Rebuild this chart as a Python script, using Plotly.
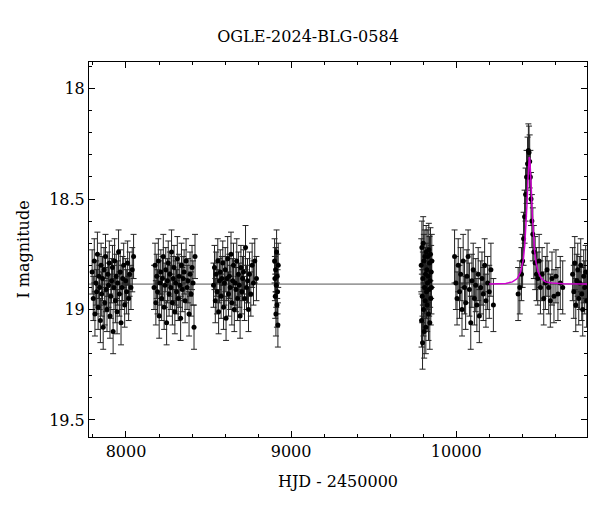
import plotly.graph_objects as go

# observations: (HJD-2450000, I mag)
s1_t = [7795,7802,7808,7812,7818,7822,7827,7831,7836,7840,7845,7849,7853,7858,7862,7867,7871,7876,7880,7885,7890,7894,7899,7903,7908,7913,7918,7922,7927,7931,7936,7941,7946,7950,7955,7960,7965,7970,7975,7980,7986,7992,7998,8004,8010,8016,8022,8030,8038,8046]
s1_m = [18.83,18.95,18.78,19.02,18.88,18.92,18.75,18.99,18.85,18.90,19.05,18.80,18.93,18.86,19.08,18.82,18.97,18.76,18.91,19.00,18.84,18.89,18.79,19.03,18.94,18.87,18.81,19.10,18.90,18.78,18.96,18.85,19.01,18.88,18.74,18.93,18.83,19.06,18.90,18.86,18.80,18.98,18.87,18.92,18.79,18.95,18.84,18.90,18.82,18.76]
s2_t = [8170,8176,8181,8186,8191,8196,8201,8206,8211,8216,8221,8226,8231,8236,8241,8246,8251,8256,8261,8266,8271,8276,8281,8286,8291,8296,8301,8306,8311,8316,8321,8326,8331,8336,8341,8346,8352,8358,8364,8370,8376,8382,8388,8394,8400,8406,8412,8418]
s2_m = [18.90,18.80,18.97,18.85,18.92,18.78,19.03,18.88,18.83,18.95,18.86,18.76,18.99,18.89,18.82,19.06,18.87,18.79,18.93,18.84,18.90,18.74,18.97,18.86,18.81,19.01,18.88,18.92,18.77,18.95,18.85,18.89,19.04,18.80,18.91,18.86,18.83,18.96,18.78,18.90,18.87,19.02,18.84,18.93,18.81,18.88,19.08,18.76]
s3_t = [8530,8536,8541,8546,8551,8556,8561,8566,8571,8576,8581,8586,8591,8596,8601,8606,8611,8616,8621,8626,8631,8636,8641,8646,8651,8656,8661,8666,8671,8676,8681,8686,8691,8696,8701,8706,8712,8718,8724,8730,8736,8742,8748,8756,8764,8772,8780,8790]
s3_m = [18.89,18.81,18.96,18.84,18.92,18.78,19.01,18.87,18.83,18.94,18.86,18.79,18.99,18.88,18.82,19.04,18.86,18.77,18.93,18.85,18.90,18.75,18.97,18.87,18.80,19.00,18.88,18.91,18.78,18.95,18.84,18.89,19.03,18.81,18.92,18.86,18.83,18.95,18.72,18.90,18.87,19.00,18.84,18.93,18.80,18.88,18.78,18.86]
s4_t = [8900,8902,8904,8906,8908,8910,8912,8914,8916,8918,8920,8922]
s4_m = [18.78,18.86,18.94,18.82,19.02,18.89,18.74,18.98,18.85,18.92,19.07,18.80]
s5_t = [9788,9790,9792,9794,9796,9798,9800,9802,9804,9806,9808,9810,9812,9814,9816,9818,9820,9822,9824,9826,9828,9830,9832,9834,9836,9838,9840,9842,9844,9846,9848,9850,9852]
s5_m = [18.80,19.05,18.72,18.94,19.15,18.86,18.70,19.00,18.78,19.10,18.90,18.76,18.96,18.84,19.08,18.74,18.92,18.82,18.98,18.88,18.76,18.85,19.02,18.73,18.91,18.79,19.06,18.87,18.75,18.95,18.83,18.90,18.78]
s6_t = [9990,9998,10005,10012,10020,10027,10035,10042,10050,10057,10065,10072,10080,10088,10095,10103,10110,10118,10125,10133,10140,10148,10156,10164,10172,10180,10190,10200,10210,10225]
s6_m = [18.76,18.88,18.95,18.80,18.92,18.84,19.00,18.78,18.90,18.97,18.85,18.76,18.91,19.06,18.87,18.82,18.95,18.89,18.98,18.84,19.03,18.90,18.86,18.93,18.80,18.96,18.88,18.92,18.82,18.98]
s7_t = [10375,10385,10395,10402,10408,10414,10420,10426,10432,10437,10441,10445,10449,10453,10458,10464,10470,10478,10486,10494,10502,10510,10520,10530,10540,10550,10560,10570,10580,10592,10604,10616,10630,10645]
s7_m = [18.93,18.90,18.84,18.78,18.68,18.58,18.48,18.40,18.34,18.28,18.29,18.33,18.40,18.50,18.60,18.66,18.74,18.79,18.84,18.86,18.78,18.90,18.84,18.95,18.88,18.82,18.90,18.96,18.86,18.94,18.85,18.93,18.88,18.90]
s8_t = [10705,10712,10718,10724,10730,10736,10742,10748,10754,10760,10766,10772,10778,10784,10790]
s8_m = [18.84,18.92,18.79,18.98,18.87,18.82,18.95,18.88,18.80,18.93,19.00,18.85,18.90,18.83,18.96]

model_t = [10200,10300,10340,10370,10390,10405,10415,10422,10428,10434,10438,10442,10446,10450,10455,10460,10466,10474,10484,10496,10515,10540,10580,10650,10800]
model_m = [18.885,18.882,18.875,18.86,18.83,18.78,18.71,18.63,18.53,18.42,18.35,18.31,18.32,18.37,18.46,18.56,18.65,18.73,18.79,18.83,18.86,18.875,18.88,18.884,18.885]
baseline = 18.885
title = "OGLE-2024-BLG-0584"

t = s1_t+s2_t+s3_t+s4_t+s5_t+s6_t+s7_t+s8_t
m = s1_m+s2_m+s3_m+s4_m+s5_m+s6_m+s7_m+s8_m
err = [0.10 if tt < 9500 else 0.12 for tt in t]

font = "DejaVu Serif"
fig = go.Figure()
fig.add_trace(go.Scatter(x=[7776, 10792], y=[baseline, baseline], mode="lines",
                         line=dict(color="#555", width=1), hoverinfo="skip"))
fig.add_trace(go.Scatter(x=t, y=m, mode="markers",
                         marker=dict(color="black", size=5),
                         error_y=dict(type="data", array=err, color="#222", thickness=1, width=3)))
fig.add_trace(go.Scatter(x=model_t, y=model_m, mode="lines", line=dict(color="#d000d0", width=1.5)))

ax = dict(showgrid=False, zeroline=False, showline=True, linecolor="black", linewidth=1,
          mirror="allticks", ticks="inside", ticklen=6, tickcolor="black",
          tickfont=dict(family=font, size=16, color="black"))
fig.update_layout(
    width=600, height=512, plot_bgcolor="white", paper_bgcolor="white", showlegend=False,
    margin=dict(l=81, r=21, t=54, b=83),
    title=dict(text=title, x=0.5, xanchor="center", y=0.955, font=dict(family=font, size=16, color="black")),
    xaxis=dict(ax, range=[7776, 10792], tickvals=[8000, 9000, 10000], ticktext=["8000", "9000", "10000"],
               minor=dict(ticks="inside", ticklen=3, dtick=200, tickcolor="black"),
               title=dict(text="HJD - 2450000", font=dict(family=font, size=16, color="black"))),
    yaxis=dict(ax, range=[19.577, 17.88], tickvals=[18, 18.5, 19, 19.5], ticktext=["18", "18.5", "19", "19.5"],
               minor=dict(ticks="inside", ticklen=3, dtick=0.1, tickcolor="black"),
               title=dict(text="I magnitude", font=dict(family=font, size=16, color="black"))),
)
fig.write_html("out.html")
